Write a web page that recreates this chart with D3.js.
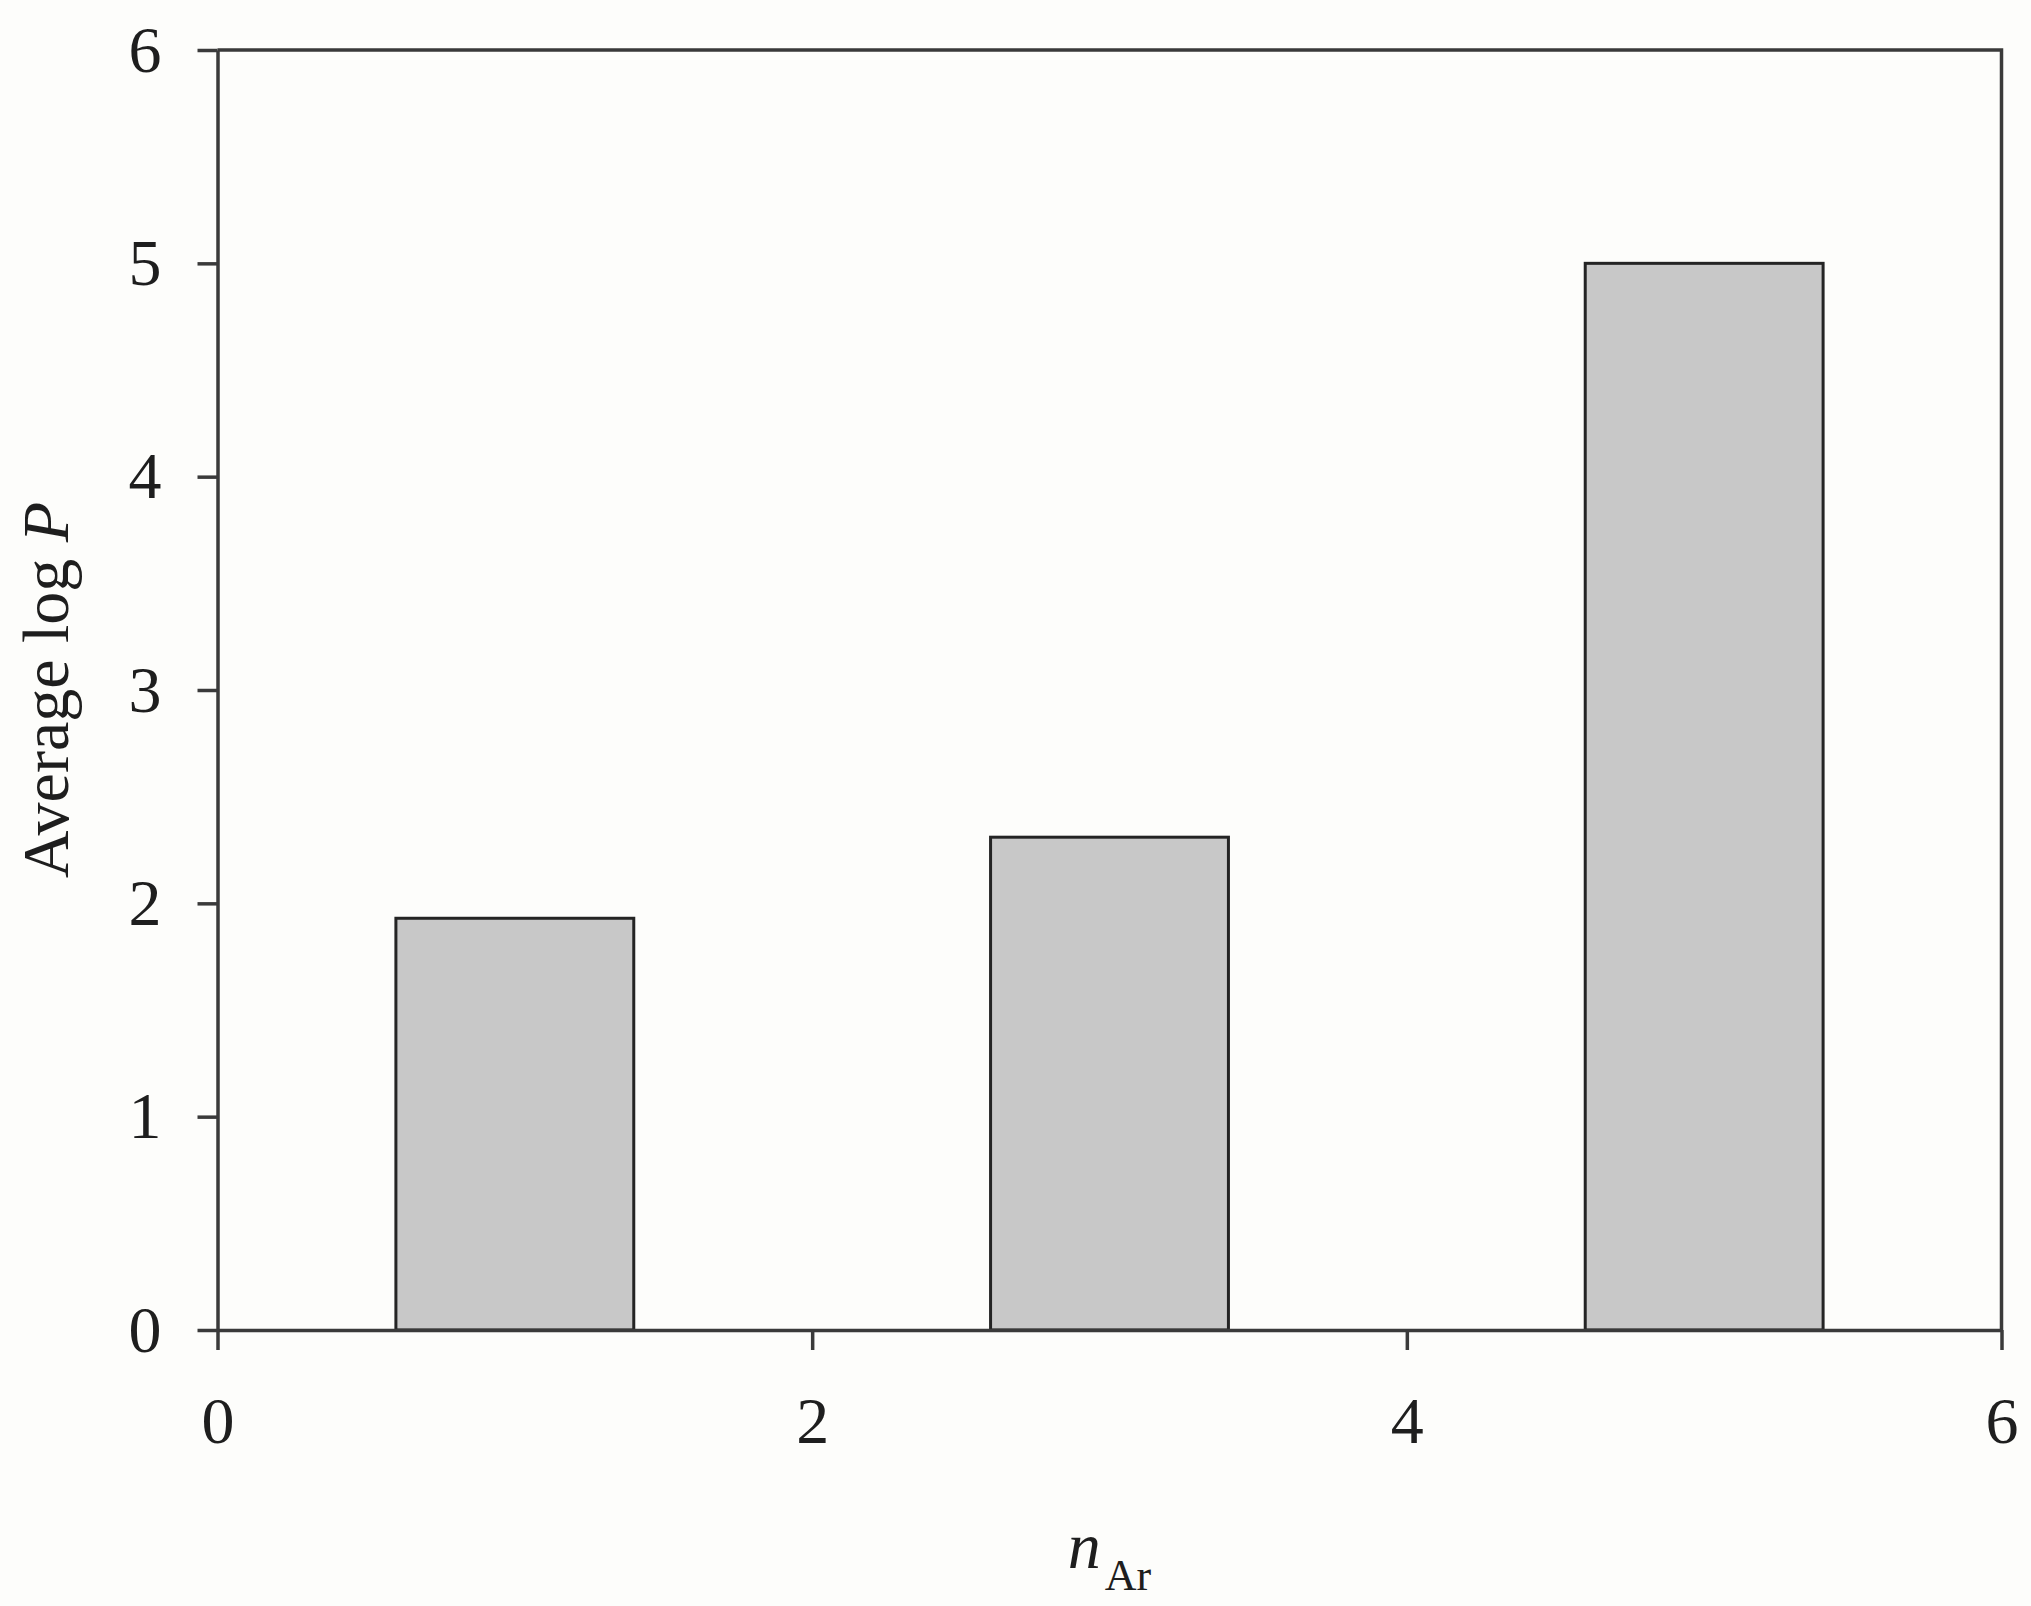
<!DOCTYPE html>
<html>
<head>
<meta charset="utf-8">
<script src="https://cdn.jsdelivr.net/npm/d3@7"></script>
<style>
	body { margin: 0; background: #fdfdfb; }
	svg text { font-family: "Liberation Serif", "Times New Roman", serif; fill: #1e1e1e; }
</style>
</head>
<body>
<div class="chart"></div>
<script>
// values
const nAr = [1, 3, 5];
const avgLogP = [1.93, 2.31, 5.0];
const xTicks = [0, 2, 4, 6];
const yTicks = [0, 1, 2, 3, 4, 5, 6];

const width = 2031;
const height = 1606;
const margin = { top: 50, right: 29.5, bottom: 276, left: 217.5 };
const barWidth = 0.8;
const lineColor = "#3a3a3a";

const svg = d3.create("svg").attr("width", width).attr("height", height);
d3.select(".chart").append(() => svg.node());

const x = d3.scaleLinear().domain([0, 6]).range([margin.left, width - margin.right]);
const y = d3.scaleLinear().domain([0, 6]).range([height - margin.bottom, margin.top]);

// bars
svg.append("g")
	.selectAll("rect")
	.data(nAr.map((n, i) => ({ n, v: avgLogP[i] })))
	.join("rect")
	.attr("x", (d) => x(d.n - barWidth / 2))
	.attr("y", (d) => y(d.v))
	.attr("width", (d) => x(d.n + barWidth / 2) - x(d.n - barWidth / 2))
	.attr("height", (d) => y(0) - y(d.v))
	.attr("fill", "#c8c8c8")
	.attr("stroke", "#242424")
	.attr("stroke-width", 3);

// frame top and right
svg.append("path")
	.attr("d", `M${x(0)},${y(6)}H${x(6)}V${y(0)}`)
	.attr("fill", "none")
	.attr("stroke", lineColor)
	.attr("stroke-width", 3.5);

const xAxis = svg.append("g")
	.attr("transform", `translate(0,${y(0)})`)
	.call(d3.axisBottom(x).tickValues(xTicks).tickFormat(d3.format("d")).tickSize(20).tickSizeOuter(0).tickPadding(46));

const yAxis = svg.append("g")
	.attr("transform", `translate(${x(0)},0)`)
	.call(d3.axisLeft(y).tickValues(yTicks).tickFormat(d3.format("d")).tickSize(20).tickSizeOuter(0).tickPadding(36));

[xAxis, yAxis].forEach((g) => {
	g.select(".domain").attr("stroke", lineColor).attr("stroke-width", 3.5);
	g.selectAll(".tick line").attr("stroke", lineColor).attr("stroke-width", 3.5);
	g.selectAll(".tick text").attr("font-size", 66).attr("font-family", null).attr("fill", "#1e1e1e");
});

// y axis title
svg.append("text")
	.attr("transform", `translate(68,${(y(0) + y(6)) / 2}) rotate(-90)`)
	.attr("text-anchor", "middle")
	.attr("font-size", 66)
	.call((t) => {
		t.append("tspan").text("Average log ");
		t.append("tspan").attr("font-style", "italic").text("P");
	});

// x axis title
svg.append("text")
	.attr("x", (x(0) + x(6)) / 2)
	.attr("y", 1568)
	.attr("text-anchor", "middle")
	.attr("font-size", 66)
	.call((t) => {
		t.append("tspan").attr("font-style", "italic").text("n");
		t.append("tspan").attr("font-size", 44).attr("dy", 22).attr("dx", 4).text("Ar");
	});
</script>
</body>
</html>
